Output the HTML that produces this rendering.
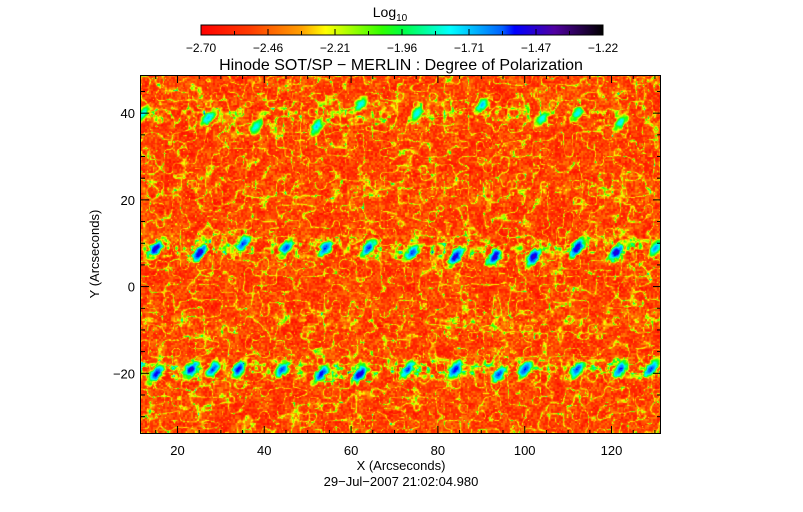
<!DOCTYPE html>
<html><head><meta charset="utf-8"><style>
body{margin:0;background:#fff;width:803px;height:512px;overflow:hidden;position:relative;font-family:"Liberation Sans",sans-serif;color:#000}
</style></head><body>
<svg id="chart" width="803" height="512" style="position:absolute;left:0;top:0" font-family="Liberation Sans, sans-serif">
<defs><linearGradient id="cb" x1="0" x2="1">
<stop offset="0" stop-color="#ff0000"/><stop offset="0.12" stop-color="#ff3a00"/><stop offset="0.25" stop-color="#ffa000"/><stop offset="0.31" stop-color="#ffff00"/><stop offset="0.45" stop-color="#30ff00"/><stop offset="0.5" stop-color="#00ff40"/><stop offset="0.62" stop-color="#00ffff"/><stop offset="0.75" stop-color="#0060ff"/><stop offset="0.78" stop-color="#0000ff"/><stop offset="0.88" stop-color="#5000a0"/><stop offset="1" stop-color="#000000"/>
</linearGradient></defs>
<text x="390" y="17" font-size="14" text-anchor="middle">Log<tspan font-size="10" dy="4">10</tspan></text>
<rect x="201" y="25" width="402" height="10" fill="url(#cb)" stroke="#000" stroke-width="1"/>
<g id="cbticks"></g>
<text x="401" y="70" font-size="16" text-anchor="middle">Hinode SOT/SP − MERLIN : Degree of Polarization</text>
<foreignObject x="141" y="75" width="520" height="359"><canvas xmlns="http://www.w3.org/1999/xhtml" id="hm" width="520" height="359" style="display:block"></canvas></foreignObject>
<rect x="140.5" y="75.5" width="520" height="358" fill="none" stroke="#000"/>
<g id="axes"></g>
<text x="401" y="470" font-size="13" text-anchor="middle">X (Arcseconds)</text>
<text x="401" y="486" font-size="13" text-anchor="middle">29−Jul−2007 21:02:04.980</text>
<text x="99" y="254" font-size="13" text-anchor="middle" transform="rotate(-90 99 254)">Y (Arcseconds)</text>
</svg>
<script>
const cbLabels=["−2.70","−2.46","−2.21","−1.96","−1.71","−1.47","−1.22"];
const xTicks=[20,40,60,80,100,120];
const yTicks=[-20,0,20,40];
const blobX=[15,25,35,45,54,64,74,84,93,102,112,121,130, 15,23,28,34,44,53,62,73,84,94,100,112,122,129, 12,27,38,52,62,75,90,104,112,122];
const blobY=[9,8,10,9,9,9,8,7,7,7,9,8,9, -20,-19,-19,-19,-19,-20,-20,-19,-19,-20,-19,-19,-19,-19, 40,39,37,37,42,40,42,39,40,38];
const blobV=[-1.5,-1.5,-1.6,-1.6,-1.6,-1.6,-1.6,-1.5,-1.5,-1.5,-1.5,-1.5,-1.7, -1.55,-1.5,-1.6,-1.55,-1.6,-1.55,-1.5,-1.6,-1.55,-1.6,-1.6,-1.6,-1.6,-1.6, -1.8,-1.75,-1.8,-1.75,-1.8,-1.8,-1.75,-1.8,-1.8,-1.8];
const laneY=[9,-19,40,-8,22];
const laneV=[0.4,0.45,0.3,0.2,0.15];
const X0=11.6,X1=131.4,Y0=-34,Y1=48.8,L=141,R=661,T=75,B=434;
const sx=v=>L+(v-X0)/(X1-X0)*(R-L), sy=v=>B-(v-Y0)/(Y1-Y0)*(B-T);
const NS="http://www.w3.org/2000/svg";
function mk(tag,at,p){const e=document.createElementNS(NS,tag);for(const k in at)e.setAttribute(k,at[k]);p.appendChild(e);return e;}
const ax=document.getElementById('axes');
for(let v=15;v<=130;v+=5){const major=v%20==0;const x=sx(v);
 const a=mk('line',{x1:x,x2:x,y1:B,y2:B-(major?8:4),stroke:'#000'},ax);
 const b=mk('line',{x1:x,x2:x,y1:T,y2:T+(major?8:4),stroke:'#000'},ax);}
xTicks.forEach(v=>{const t=mk('text',{x:sx(v),y:B+21,'font-size':13,'text-anchor':'middle'},ax);t.textContent=v;});
for(let v=-30;v<=45;v+=5){const major=v%20==0;const y=sy(v);
 const a=mk('line',{x1:L,x2:L+(major?8:4),y1:y,y2:y,stroke:'#000'},ax);
 const b=mk('line',{x1:R,x2:R-(major?8:4),y1:y,y2:y,stroke:'#000'},ax);}
yTicks.forEach(v=>{const t=mk('text',{x:L-6,y:sy(v)+5,'font-size':13,'text-anchor':'end'},ax);t.textContent=v==0?'0':(v<0?'−'+(-v):v);});
const cbt=document.getElementById('cbticks');
for(let i=0;i<=12;i++){const x=201+i*402/12;const l=mk('line',{x1:x,x2:x,y1:35,y2:i%2?31:29,stroke:'#000'},cbt);}
cbLabels.forEach((s,i)=>{const t=mk('text',{x:201+i*67,y:52,'font-size':12,'text-anchor':'middle'},cbt);t.textContent=s;});
const stops=[[0,255,0,0],[0.12,255,58,0],[0.25,255,160,0],[0.31,255,255,0],[0.45,48,255,0],[0.5,0,255,64],[0.62,0,255,255],[0.75,0,96,255],[0.78,0,0,255],[0.88,80,0,160],[1,0,0,0]];
function cmap(t){t=Math.max(0,Math.min(1,t));for(let i=1;i<stops.length;i++)if(t<=stops[i][0]){const a=stops[i-1],b=stops[i],f=(t-a[0])/(b[0]-a[0]);return[a[1]+f*(b[1]-a[1]),a[2]+f*(b[2]-a[2]),a[3]+f*(b[3]-a[3])];}return[0,0,0];}
function h(i,j,s){let n=(i*374761393+j*668265263+s*982451653)|0;n=(n^(n>>>13))*1274126177|0;n=n^(n>>>16);return ((n>>>0)%10000)/10000;}
function vn(x,y,sc,s){const gx=x/sc,gy=y/sc,i=Math.floor(gx),j=Math.floor(gy),fx=gx-i,fy=gy-j;const u=fx*fx*(3-2*fx),w=fy*fy*(3-2*fy);const a=h(i,j,s),b=h(i+1,j,s),c=h(i,j+1,s),d=h(i+1,j+1,s);return a+(b-a)*u+(c-a)*w+(a-b-c+d)*u*w;}
const cv=document.getElementById('hm'),ctx=cv.getContext('2d'),W=cv.width,H=cv.height,img=ctx.createImageData(W,H);
const bx=blobX.map(sx),by=blobY.map(sy);
for(let py=0;py<H;py++)for(let px=0;px<W;px++){
 const X=px+L,Y=py+T;
 const px2=px>>1,py2=py>>1;
 let v=-2.68+0.2*h(px2,py2,1)+0.12*vn(X,Y,9,2);
 const net=Math.abs(vn(X,Y,8,3)-0.5);
 if(net<0.09)v+=0.32*(1-net/0.09)*(0.4+h(px2,py2,4));
 const sp=vn(X,Y,3,6);if(sp>0.82)v+=(sp-0.82)*2.2;
 for(let k=0;k<laneY.length;k++){const d=(Y-sy(laneY[k]))/10;const g=Math.exp(-d*d);if(g>0.05){const n=vn(X,Y,4,7+k);if(n>0.5)v+=laneV[k]*g*(n-0.5)*3;}}
 for(let k=0;k<bx.length;k++){const dx0=X-bx[k],dy0=Y-by[k];if(Math.abs(dx0)>14||Math.abs(dy0)>14)continue;
  const wob=vn(X,Y,3,20+k);const dx=(dx0+dy0*0.5)/(2+2*wob),dy=dy0/(3+2.5*wob);const e=dx*dx+dy*dy;
  if(e<8){v=Math.max(v,blobV[k]-0.13*e+0.06*h(px,py,5));}}
 const c=cmap((v+2.70)/1.48);const o=(py*W+px)*4;img.data[o]=c[0];img.data[o+1]=c[1];img.data[o+2]=c[2];img.data[o+3]=255;}
ctx.putImageData(img,0,0);
</script>
</body></html>
